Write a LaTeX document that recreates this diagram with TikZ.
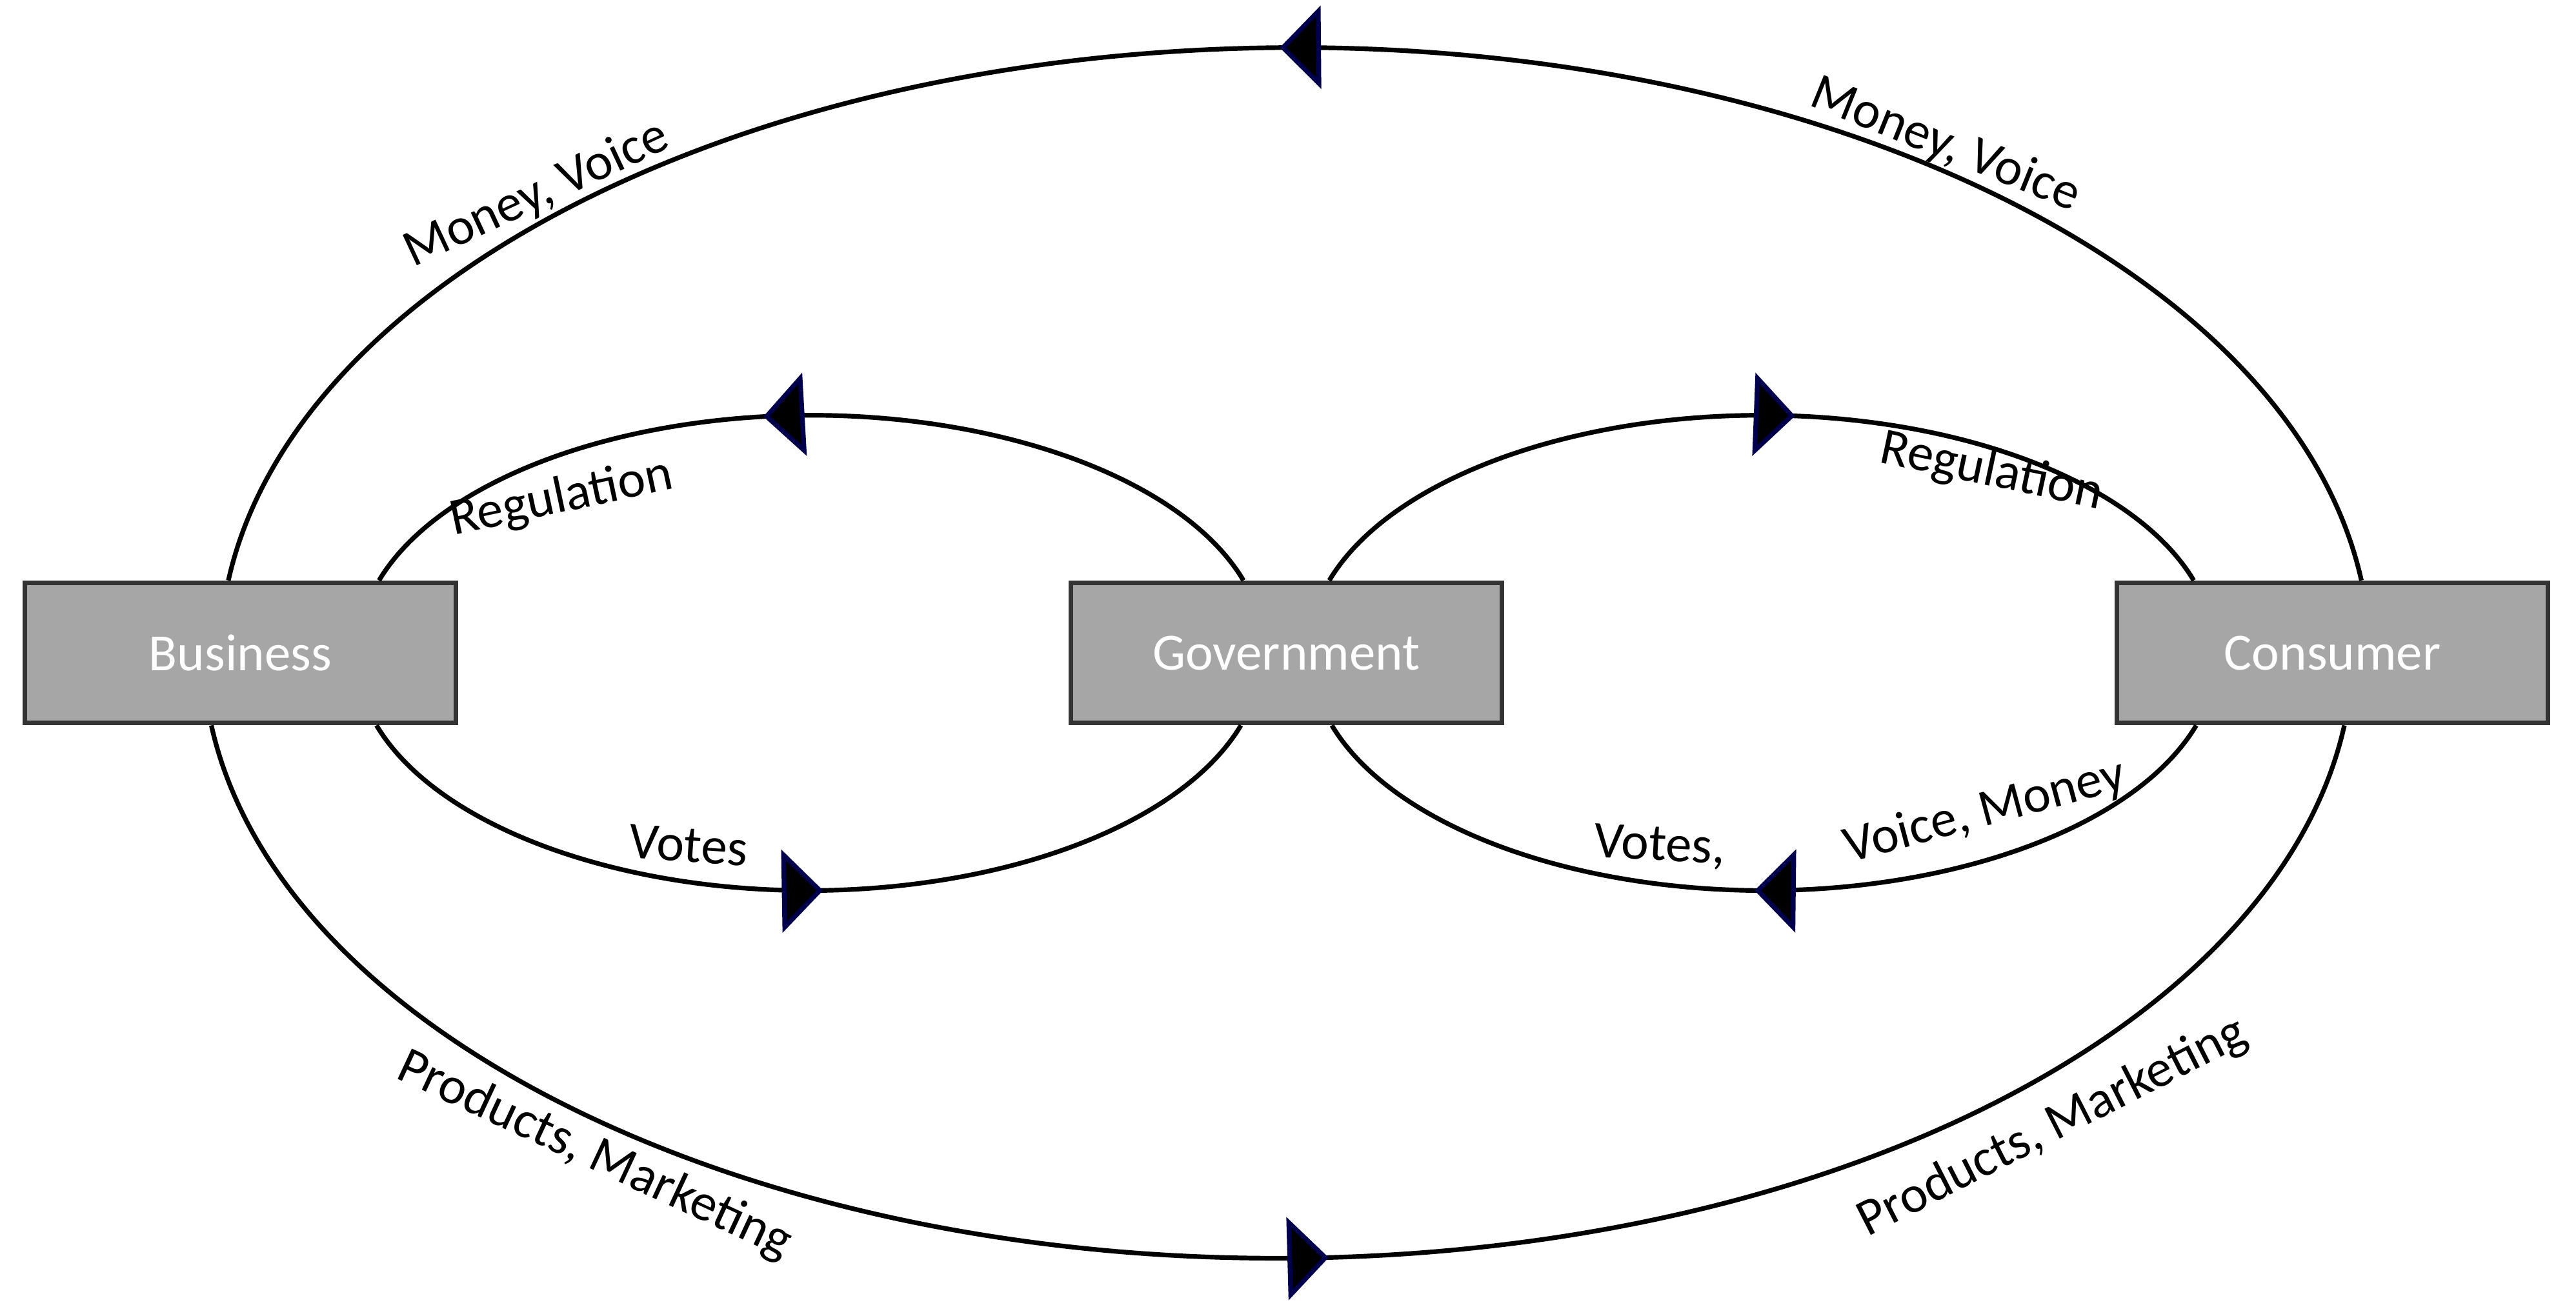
\documentclass[tikz,border=0pt]{standalone}
\usepackage{fontspec}
\setmainfont{Carlito}
\usetikzlibrary{arrows.meta,decorations.markings}

\tikzset{
  box/.style={draw=black!80,thick,fill=black!35,minimum width=2.61cm,minimum height=0.85cm,text=white,font=\fontsize{9}{10}\selectfont},
  lbl/.style={font=\fontsize{9}{10}\selectfont},
  flow/.style={thick,postaction={decorate},decoration={markings,
    mark=at position #1 with {\arrow{Triangle[length=0.25cm,width=0.5cm,fill=black,color=blue!30!black]}}}},
  flow/.default=0.5
}

\begin{document}
\begin{tikzpicture}
\useasboundingbox (0,0) rectangle (15.6,-7.97);
% boxes
\node[box] (bus) at (1.455,-3.955) {Business};
\node[box] (gov) at (7.79,-3.955) {Government};
\node[box] (con) at (14.125,-3.955) {Consumer};
% outer loop
\draw[flow=0.506] ([xshift=0.175cm]con.north) arc[start angle=7.2,end angle=172.8,x radius=6.51,y radius=3.69];
\draw[flow=0.52] ([xshift=-0.175cm]bus.south) arc[start angle=187.2,end angle=352.8,x radius=6.51,y radius=3.69];
% inner loops
\draw[flow=0.55] ([xshift=-0.26cm]gov.north) arc[start angle=17.2,end angle=162.8,x radius=2.74,y radius=1.42];
\draw[flow=0.515] ([xshift=0.825cm]bus.south) arc[start angle=197.2,end angle=342.8,x radius=2.74,y radius=1.42];
\draw[flow=0.535] ([xshift=0.26cm]gov.north) arc[start angle=162.8,end angle=17.2,x radius=2.74,y radius=1.42];
\draw[flow=0.51] ([xshift=-0.825cm]con.south) arc[start angle=342.8,end angle=197.2,x radius=2.74,y radius=1.42];
% labels
\node[lbl,rotate=25] (mv1) at (3.25,-1.18) {Money, Voice};
\node[lbl,rotate=-22] (mv2) at (11.78,-0.88) {Money, Voice};
\node[lbl,rotate=12] (rg1) at (3.40,-3.02) {Regulation};
\node[lbl,rotate=-12] (rg2) at (12.06,-2.86) {Regulation};
\node[lbl,rotate=-4] (vt1) at (4.17,-5.12) {Votes};
\node[lbl,rotate=-3] (vt2) at (10.05,-5.13) {Votes,};
\node[lbl,rotate=15] (vm) at (12.02,-4.92) {Voice, Money};
\node[lbl,rotate=-25] (pm1) at (3.60,-7.00) {Products, Marketing};
\node[lbl,rotate=27] (pm2) at (12.43,-6.83) {Products, Marketing};
\end{tikzpicture}
\end{document}
